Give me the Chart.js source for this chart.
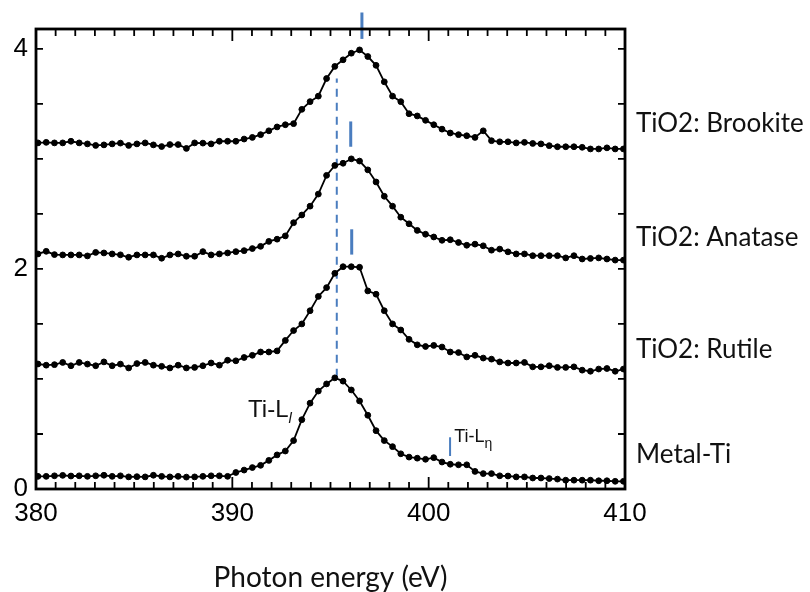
<!DOCTYPE html>
<html>
<head>
<meta charset="utf-8">
<script src="https://cdn.jsdelivr.net/npm/chart.js@4.4.0/dist/chart.umd.min.js"></script>
<style>
  body { margin: 0; background: #fff; }
  #wrap { width: 810px; height: 592px; position: relative; }
</style>
</head>
<body>
<div id="wrap"><canvas id="xasChart"></canvas></div>
<script>
// photon energy of each measured point (eV)
const energies = [
  380.10, 380.52, 380.94, 381.36, 381.78, 382.20, 382.62, 383.04, 383.46, 383.88,
  384.30, 384.72, 385.14, 385.56, 385.98, 386.40, 386.82, 387.24, 387.66, 388.08,
  388.50, 388.92, 389.34, 389.76, 390.18, 390.60, 391.02, 391.44, 391.86, 392.28,
  392.70, 393.12, 393.54, 393.96, 394.38, 394.80, 395.22, 395.64, 396.06, 396.48,
  396.90, 397.32, 397.74, 398.16, 398.58, 399.00, 399.42, 399.84, 400.26, 400.68,
  401.10, 401.52, 401.94, 402.36, 402.78, 403.20, 403.62, 404.04, 404.46, 404.88,
  405.30, 405.72, 406.14, 406.56, 406.98, 407.40, 407.82, 408.24, 408.66, 409.08,
  409.50, 409.92
];

// spectra, already offset vertically as in the figure
const metalTi = [
  0.115, 0.115, 0.120, 0.124, 0.118, 0.120, 0.115, 0.120, 0.125, 0.115,
  0.120, 0.110, 0.112, 0.110, 0.125, 0.115, 0.110, 0.115, 0.108, 0.110,
  0.115, 0.120, 0.120, 0.115, 0.150, 0.172, 0.195, 0.215, 0.260, 0.310,
  0.345, 0.440, 0.630, 0.780, 0.890, 0.955, 1.010, 0.980, 0.900, 0.800,
  0.670, 0.530, 0.440, 0.385, 0.320, 0.290, 0.280, 0.270, 0.285, 0.245,
  0.225, 0.220, 0.220, 0.160, 0.140, 0.140, 0.120, 0.118, 0.110, 0.110,
  0.100, 0.100, 0.095, 0.090, 0.080, 0.080, 0.080, 0.080, 0.075, 0.075,
  0.070, 0.070
];
const rutile = [
  1.136, 1.125, 1.130, 1.150, 1.120, 1.150, 1.135, 1.120, 1.155, 1.120,
  1.135, 1.100, 1.140, 1.150, 1.125, 1.115, 1.100, 1.125, 1.100, 1.105,
  1.120, 1.145, 1.125, 1.170, 1.165, 1.195, 1.215, 1.245, 1.245, 1.255,
  1.350, 1.440, 1.500, 1.620, 1.750, 1.830, 1.960, 2.020, 2.020, 2.015,
  1.800, 1.770, 1.620, 1.500, 1.445, 1.360, 1.310, 1.295, 1.305, 1.290,
  1.245, 1.240, 1.200, 1.215, 1.190, 1.180, 1.155, 1.145, 1.145, 1.150,
  1.110, 1.110, 1.120, 1.105, 1.105, 1.110, 1.080, 1.070, 1.090, 1.095,
  1.070, 1.090
];
const anatase = [
  2.136, 2.160, 2.130, 2.127, 2.127, 2.127, 2.118, 2.150, 2.145, 2.136,
  2.128, 2.106, 2.127, 2.127, 2.127, 2.097, 2.127, 2.136, 2.115, 2.115,
  2.157, 2.127, 2.136, 2.145, 2.157, 2.166, 2.185, 2.205, 2.250, 2.270,
  2.300, 2.420, 2.490, 2.570, 2.680, 2.850, 2.940, 2.960, 3.000, 2.980,
  2.900, 2.790, 2.660, 2.570, 2.470, 2.410, 2.350, 2.315, 2.290, 2.260,
  2.265, 2.240, 2.215, 2.225, 2.210, 2.170, 2.180, 2.155, 2.136, 2.136,
  2.120, 2.120, 2.120, 2.120, 2.100, 2.120, 2.090, 2.095, 2.100, 2.090,
  2.080, 2.080
];
const brookite = [
  3.145, 3.150, 3.145, 3.145, 3.160, 3.145, 3.136, 3.122, 3.127, 3.136,
  3.143, 3.122, 3.136, 3.145, 3.127, 3.112, 3.130, 3.130, 3.095, 3.145,
  3.143, 3.136, 3.160, 3.160, 3.160, 3.180, 3.195, 3.220, 3.255, 3.290,
  3.310, 3.320, 3.450, 3.520, 3.570, 3.730, 3.840, 3.900, 3.960, 3.990,
  3.930, 3.850, 3.700, 3.570, 3.520, 3.410, 3.390, 3.350, 3.310, 3.270,
  3.235, 3.220, 3.210, 3.195, 3.255, 3.165, 3.155, 3.155, 3.145, 3.150,
  3.140, 3.136, 3.120, 3.110, 3.110, 3.110, 3.105, 3.090, 3.090, 3.100,
  3.090, 3.090
];

const seriesNames = ["Metal-Ti", "TiO2: Rutile", "TiO2: Anatase", "TiO2: Brookite"];
const labelLevels = [0.31, 1.27, 2.28, 3.32];

// blue peak markers (energy, bottom, top)
const markerEnergy = [396.60, 396.03, 396.08, 401.09];
const markerLow = [4.09, 3.11, 2.13, 0.30];
const markerHigh = [4.33, 3.34, 2.36, 0.47];
const dashEnergy = 395.32;
const dashRange = [1.02, 3.73];

const xTickLabels = [380, 390, 400, 410];
const yTickLabels = [0, 2, 4];

const blue = "#4a7dbf";

function toPoints(xs, ys) {
    return xs.map((x, i) => ({ x: x, y: ys[i] }));
}

const spectra = [metalTi, rutile, anatase, brookite].map((vals, i) => ({
    label: seriesNames[i],
    data: toPoints(energies, vals),
    borderColor: "#000",
    backgroundColor: "#000",
    borderWidth: 1.8,
    pointRadius: 2.9,
    pointBorderWidth: 1,
    pointBackgroundColor: "#000",
    pointBorderColor: "#000",
    tension: 0
}));

const markers = markerEnergy.map((e, i) => ({
    label: "marker" + i,
    data: [{ x: e, y: markerLow[i] }, { x: e, y: markerHigh[i] }],
    borderColor: blue,
    borderWidth: i === 3 ? 2 : 3,
    pointRadius: 0,
    clip: false
}));

const dashed = {
    label: "TiL peak",
    data: [{ x: dashEnergy, y: dashRange[0] }, { x: dashEnergy, y: dashRange[1] }],
    borderColor: blue,
    borderWidth: 2,
    borderDash: [8, 6],
    pointRadius: 0
};

// frame, inward ticks and the text annotations
const framePlugin = {
    id: "frameTicks",
    afterDraw(chart) {
        const { ctx, chartArea: a, scales: { x, y } } = chart;
        ctx.save();
        ctx.strokeStyle = "#000";
        ctx.lineWidth = 1.8;
        ctx.beginPath();
        for (let e = 381; e < 410; e++) {
            const px = x.getPixelForValue(e);
            const len = (e % 10 === 0) ? 12 : 7;
            ctx.moveTo(px, a.bottom); ctx.lineTo(px, a.bottom - len);
            ctx.moveTo(px, a.top); ctx.lineTo(px, a.top + len);
        }
        for (let v = 0.5; v < 4.1; v += 0.5) {
            const py = y.getPixelForValue(v);
            ctx.moveTo(a.left, py); ctx.lineTo(a.left + 7, py);
            ctx.moveTo(a.right, py); ctx.lineTo(a.right - 7, py);
        }
        ctx.stroke();
        ctx.lineWidth = 2.8;
        ctx.strokeRect(a.left, a.top, a.width, a.height);

        // sample names on the right
        ctx.fillStyle = "#111";
        ctx.font = "26px Lato";
        ctx.textBaseline = "middle";
        ctx.textAlign = "left";
        seriesNames.forEach((name, i) => {
            ctx.fillText(name, a.right + 11, y.getPixelForValue(labelLevels[i]));
        });

        // Ti-L_l
        ctx.textBaseline = "alphabetic";
        ctx.font = "24px 'Liberation Sans'";
        let tx = x.getPixelForValue(390.8);
        let ty = y.getPixelForValue(0.655);
        ctx.fillText("Ti-L", tx, ty);
        let w = ctx.measureText("Ti-L").width;
        ctx.font = "italic 15px 'Liberation Sans'";
        ctx.fillText("l", tx + w, ty + 6);

        // Ti-L_eta
        ctx.font = "18px 'Liberation Sans'";
        tx = x.getPixelForValue(401.3);
        ty = y.getPixelForValue(0.43);
        ctx.fillText("Ti-L", tx, ty);
        w = ctx.measureText("Ti-L").width;
        ctx.font = "14px 'Liberation Sans'";
        ctx.fillText("\u03b7", tx + w, ty + 6);
        ctx.restore();
    }
};

new Chart(document.getElementById("xasChart"), {
    type: "line",
    data: { datasets: spectra.concat(markers, [dashed]) },
    options: {
        responsive: true,
        maintainAspectRatio: false,
        animation: false,
        layout: { padding: { top: 29, right: 185, bottom: 0, left: 0 } },
        plugins: {
            legend: { display: false },
            tooltip: { enabled: false }
        },
        scales: {
            x: {
                type: "linear",
                min: 380,
                max: 410,
                afterFit: s => { s.height = 103; },
                afterBuildTicks: s => { s.ticks = xTickLabels.map(v => ({ value: v })); },
                grid: { display: false, drawTicks: false },
                border: { display: false },
                ticks: {
                    padding: 9,
                    color: "#000",
                    font: { family: "'Liberation Sans'", size: 26 },
                    maxRotation: 0
                },
                title: {
                    display: true,
                    text: "Photon energy (eV)",
                    color: "#111",
                    font: { family: "Lato", size: 28, lineHeight: 1.0 },
                    padding: { top: 0, bottom: 0 }
                }
            },
            y: {
                type: "linear",
                min: 0,
                max: 4.18,
                afterFit: s => { s.width = 36; },
                afterBuildTicks: s => { s.ticks = yTickLabels.map(v => ({ value: v })); },
                grid: { display: false, drawTicks: false },
                border: { display: false },
                ticks: {
                    padding: 8,
                    color: "#000",
                    font: { family: "'Liberation Sans'", size: 26 }
                }
            }
        }
    },
    plugins: [framePlugin]
});
</script>
</body>
</html>
